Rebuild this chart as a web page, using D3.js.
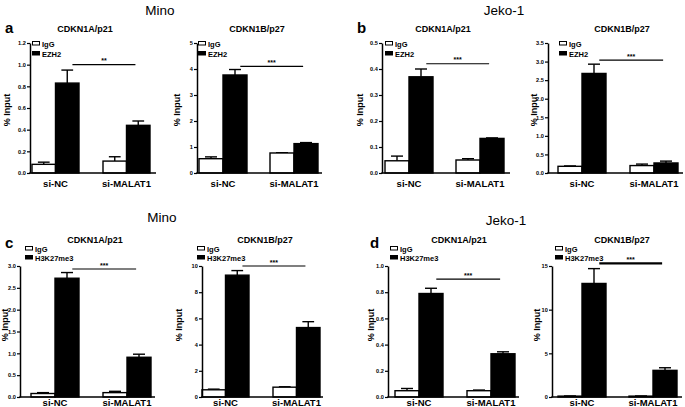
<!DOCTYPE html>
<html>
<head>
<meta charset="utf-8">
<script src="https://cdn.jsdelivr.net/npm/d3@7"></script>
<style>
  html, body { margin: 0; padding: 0; background: #fff; }
  svg { display: block; }
  text { font-family: "Liberation Sans", Arial, Helvetica, sans-serif; fill: #000; }
</style>
</head>
<body>
<svg id="chart" width="685" height="407"></svg>
<script>
// ---------------- DATA ----------------
const groups = ["si-NC", "si-MALAT1"];
const cellLines = ["Mino", "Jeko-1"];
const panelLetters = ["a", "", "b", "", "c", "", "d", ""];
const titles = ["CDKN1A/p21", "CDKN1B/p27", "CDKN1A/p21", "CDKN1B/p27",
                "CDKN1A/p21", "CDKN1B/p27", "CDKN1A/p21", "CDKN1B/p27"];
const controlName = "IgG";
const antibodies = ["EZH2", "EZH2", "EZH2", "EZH2",
                    "H3K27me3", "H3K27me3", "H3K27me3", "H3K27me3"];
// IgG means / SEM per group [si-NC, si-MALAT1]
const iggMean = [[0.08, 0.11], [0.55, 0.77], [0.047, 0.05], [0.18, 0.20],
                 [0.08, 0.10], [0.55, 0.75], [0.048, 0.048], [0.10, 0.10]];
const iggErr  = [[0.02, 0.04], [0.07, 0.01], [0.018, 0.005], [0.01, 0.04],
                 [0.02, 0.03], [0.05, 0.03], [0.017, 0.005], [0.02, 0.02]];
// antibody means / SEM per group
const abMean  = [[0.83, 0.44], [3.77, 1.13], [0.37, 0.133], [2.68, 0.27],
                 [2.72, 0.91], [9.3, 5.3], [0.79, 0.33], [13.0, 3.05]];
const abErr   = [[0.12, 0.04], [0.21, 0.04], [0.03, 0.002], [0.25, 0.05],
                 [0.13, 0.07], [0.35, 0.45], [0.04, 0.015], [1.7, 0.3]];
const yMaxes    = [1.2, 5, 0.5, 3.5, 3.0, 10, 1.0, 15];
const yTickStep = [0.2, 1, 0.1, 0.5, 0.5, 2, 0.2, 5];
const yTickFmt  = [".1f", "d", ".1f", ".1f", ".1f", "d", ".1f", "d"];
const sigLabels = ["**", "***", "***", "***", "***", "***", "***", "***"];
const sigLevels = [1.0, 4.1, 0.42, 3.04, 2.93, 10.0, 0.9, 15.3];
const yAxisTitle = "% Input";

// ---------------- LAYOUT ----------------
const rows = [
  { top: 43, bottom: 173, titleY: 32, labelY: 187, yLabelY: 110, legY: 41, legGap: 10, letterY: 33, lineY: 15 },
  { top: 266, bottom: 397, titleY: 243, labelY: 406, yLabelY: 325, legY: 246, legGap: 9, letterY: 248, lineY: 222 }
];
const layout = [
  { axisX: 30,  barStart: 32,  step: 71, barW: 23.5, axisEnd: 156, titleX: 85,  yLabX: 7,   legX: 32,  letterX: 5 },
  { axisX: 197, barStart: 199, step: 71, barW: 24,   axisEnd: 322, titleX: 257, yLabX: 177, legX: 198 },
  { axisX: 382, barStart: 385, step: 71, barW: 24,   axisEnd: 510, titleX: 443, yLabX: 360, legX: 385, letterX: 357 },
  { axisX: 548, barStart: 558, step: 72, barW: 24,   axisEnd: 683, titleX: 622, yLabX: 534, legX: 559 },
  { axisX: 20,  barStart: 31,  step: 72, barW: 24,   axisEnd: 155, titleX: 95,  yLabX: 4.8, legX: 25,  letterX: 5 },
  { axisX: 202, barStart: 202, step: 71, barW: 23.5, axisEnd: 323, titleX: 265, yLabX: 179, legX: 197 },
  { axisX: 388, barStart: 395, step: 72, barW: 24,   axisEnd: 519, titleX: 459, yLabX: 371, legX: 390, letterX: 370 },
  { axisX: 552, barStart: 558, step: 71, barW: 24,   axisEnd: 682, titleX: 622, yLabX: 537, legX: 555 }
];
const cellLabelX = [160, 504];

// ---------------- DRAW ----------------
const svg = d3.select("#chart");
svg.append("rect").attr("width", 685).attr("height", 407).attr("fill", "#fff");

// cell line headers
rows.forEach((r, ri) => {
  cellLines.forEach((c, ci) => {
    svg.append("text")
      .attr("x", cellLabelX[ci] + (ri === 1 ? 2 : 0))
      .attr("y", r.lineY + (ri === 1 && ci === 1 ? 3 : 0))
      .attr("text-anchor", "middle")
      .attr("font-size", 13.5)
      .text(c);
  });
});

function drawPanel(i) {
  const L = layout[i];
  const R = rows[i < 4 ? 0 : 1];
  const g = svg.append("g");

  const y = d3.scaleLinear().domain([0, yMaxes[i]]).range([R.bottom, R.top]);
  const x = d3.scaleBand().domain(groups)
    .range([L.barStart, L.barStart + L.step + 2 * L.barW])
    .paddingInner(1 - 2 * L.barW / L.step).paddingOuter(0);
  const xs = d3.scaleBand().domain([0, 1]).range([0, x.bandwidth()]);

  const data = [];
  groups.forEach((grp, j) => {
    data.push({ g: grp, s: 0, v: iggMean[i][j], e: iggErr[i][j] });
    data.push({ g: grp, s: 1, v: abMean[i][j], e: abErr[i][j] });
  });

  // error bars (upper only)
  data.forEach(d => {
    const cx = x(d.g) + xs(d.s) + xs.bandwidth() / 2;
    const half = xs.bandwidth() / 4;
    g.append("line").attr("x1", cx).attr("x2", cx)
      .attr("y1", y(d.v)).attr("y2", y(d.v + d.e))
      .attr("stroke", "#000").attr("stroke-width", 1.4);
    g.append("line").attr("x1", cx - half).attr("x2", cx + half)
      .attr("y1", y(d.v + d.e)).attr("y2", y(d.v + d.e))
      .attr("stroke", "#000").attr("stroke-width", 1.4);
  });

  // bars
  g.selectAll("rect.bar").data(data).enter().append("rect")
    .attr("class", "bar")
    .attr("x", d => x(d.g) + xs(d.s))
    .attr("width", xs.bandwidth())
    .attr("y", d => y(d.v))
    .attr("height", d => y(0) - y(d.v))
    .attr("fill", d => d.s ? "#000" : "#fff")
    .attr("stroke", "#000").attr("stroke-width", 1.4);

  // y axis
  const ticks = d3.range(0, yMaxes[i] + yTickStep[i] / 2, yTickStep[i]);
  const ya = g.append("g").attr("transform", `translate(${L.axisX},0)`)
    .call(d3.axisLeft(y).tickValues(ticks).tickFormat(d3.format(yTickFmt[i]))
      .tickSize(3).tickSizeOuter(0).tickPadding(1.2));
  ya.select(".domain").attr("stroke-width", 1.5);
  ya.selectAll(".tick line").attr("stroke-width", 1.2);
  ya.selectAll(".tick text").attr("font-size", 5.6).attr("font-weight", "bold").attr("fill", "#000");

  // x axis line
  g.append("line").attr("x1", L.axisX - 0.75).attr("x2", L.axisEnd)
    .attr("y1", R.bottom).attr("y2", R.bottom)
    .attr("stroke", "#000").attr("stroke-width", 1.5);

  // group labels
  groups.forEach(grp => {
    g.append("text").attr("x", x(grp) + x.bandwidth() / 2).attr("y", R.labelY)
      .attr("text-anchor", "middle").attr("font-size", 9.5).attr("font-weight", "bold")
      .text(grp);
  });

  // y axis title
  g.append("text")
    .attr("transform", `translate(${L.yLabX},${R.yLabelY}) rotate(-90)`)
    .attr("text-anchor", "middle").attr("dominant-baseline", "central")
    .attr("font-size", 9).attr("font-weight", "bold")
    .text(yAxisTitle);

  // title
  g.append("text").attr("x", L.titleX).attr("y", R.titleY)
    .attr("text-anchor", "middle").attr("font-size", 9).attr("font-weight", "bold")
    .text(titles[i]);

  // panel letter
  if (panelLetters[i]) {
    g.append("text").attr("x", L.letterX).attr("y", R.letterY)
      .attr("font-size", 15).attr("font-weight", "bold").text(panelLetters[i]);
  }

  // legend
  [controlName, antibodies[i]].forEach((name, k) => {
    const ly = R.legY + k * R.legGap;
    g.append("rect").attr("x", L.legX + 0.5).attr("y", ly + 0.5)
      .attr("width", 7).attr("height", 3.5)
      .attr("fill", k ? "#000" : "#fff").attr("stroke", "#000").attr("stroke-width", 1);
    g.append("text").attr("x", L.legX + 10).attr("y", ly + 5.5)
      .attr("font-size", 7.5).attr("font-weight", "bold").text(name);
  });

  // significance bar
  const sy = y(sigLevels[i]);
  const sx1 = x(groups[0]) + 0.86 * x.bandwidth();
  const sx2 = x(groups[1]) + 0.69 * x.bandwidth();
  g.append("line").attr("x1", sx1).attr("x2", sx2).attr("y1", sy).attr("y2", sy)
    .attr("stroke", "#000").attr("stroke-width", i === 7 ? 2.2 : 1.1);
  g.append("text").attr("x", (sx1 + sx2) / 2).attr("y", sy - 1.5)
    .attr("text-anchor", "middle").attr("font-size", 7).attr("font-weight", "bold")
    .text(sigLabels[i]);
}

for (let i = 0; i < 8; i++) drawPanel(i);
</script>
</body>
</html>
